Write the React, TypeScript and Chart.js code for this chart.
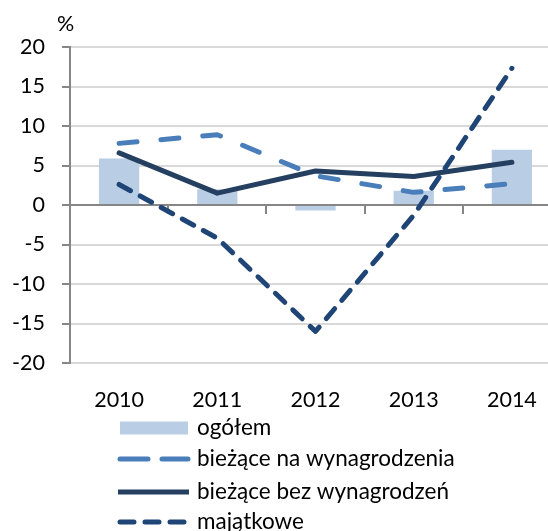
import React, { useEffect, useRef } from "react";
import { Chart, registerables } from "chart.js";

Chart.register(...registerables);

// ---- data ----
const categories = ["2010", "2011", "2012", "2013", "2014"];
const ogolem = [5.9, 2.0, -0.7, 1.8, 7.0];
const biezaceNaWynagrodzenia = [7.8, 8.9, 3.7, 1.6, 2.7];
const biezaceBezWynagrodzen = [6.6, 1.5, 4.3, 3.6, 5.4];
const majatkowe = [2.6, -4.2, -16.0, -1.3, 17.3];
const seriesNames = ["ogółem", "bieżące na wynagrodzenia", "bieżące bez wynagrodzeń", "majątkowe"];
const yMin = -20;
const yMax = 20;
const yStep = 5;
const unitLabel = "%";

// ---- styles ----
const FONT_FAMILY = "Lato";
const FONT_SIZE = 21.5;
const LEGEND_FONT_SIZE = 22.5;
const AXIS_COLOR = "#868686";
const GRID_COLOR = "#d9d9d9";
const BAR_COLOR = "#b9cde5";
const MID_BLUE = "#4a7ebb";
const NAVY = "#243f60";
const DARK_BLUE = "#1f4577";
const LINE_W = 5;

const overlayPlugin = {
  id: "overlay",
  afterDraw(chart: any) {
    const ctx = chart.ctx as CanvasRenderingContext2D;
    ctx.save();
    ctx.font = `${FONT_SIZE}px ${FONT_FAMILY}`;
    ctx.fillStyle = "#000";
    ctx.textAlign = "left";
    ctx.textBaseline = "middle";
    ctx.fillText(unitLabel, 57, 24);

    // legend (vertical, below the axis labels)
    ctx.font = `${LEGEND_FONT_SIZE}px ${FONT_FAMILY}`;
    const x0 = 120;
    const x1 = 188;
    const textX = 197;
    const rows = [428, 459, 492, 522];
    const ds = chart.data.datasets;
    rows.forEach((y, i) => {
      const d = ds[i];
      if (i === 0) {
        ctx.fillStyle = d.backgroundColor;
        ctx.fillRect(x0, y - 6.5, x1 - x0, 13);
      } else {
        ctx.beginPath();
        ctx.strokeStyle = d.borderColor;
        ctx.lineWidth = LINE_W;
        ctx.lineCap = i === 2 ? "butt" : "round";
        ctx.setLineDash(i === 1 ? [28, 14] : i === 3 ? [14, 11] : []);
        ctx.moveTo(i === 2 ? x0 - 2 : x0, y);
        ctx.lineTo(i === 2 ? x1 + 1 : x1, y);
        ctx.stroke();
        ctx.setLineDash([]);
      }
      ctx.fillStyle = "#000";
      ctx.fillText(d.label, textX, y);
    });
    ctx.restore();
  },
};

export default function App() {
  const canvasRef = useRef<HTMLCanvasElement | null>(null);

  useEffect(() => {
    if (!canvasRef.current) return;
    const font = { family: FONT_FAMILY, size: FONT_SIZE };
    const chart = new Chart(canvasRef.current, {
      type: "bar",
      data: {
        labels: categories,
        datasets: [
          {
            type: "bar",
            label: seriesNames[0],
            data: ogolem,
            backgroundColor: BAR_COLOR,
            barPercentage: 0.41,
            categoryPercentage: 1,
            order: 5,
            xAxisID: "x",
            yAxisID: "y",
          },
          {
            type: "line",
            label: seriesNames[1],
            data: biezaceNaWynagrodzenia,
            borderColor: MID_BLUE,
            backgroundColor: MID_BLUE,
            borderWidth: LINE_W,
            borderDash: [18, 24],
            borderCapStyle: "round",
            borderJoinStyle: "round",
            pointRadius: 0,
            tension: 0,
            fill: false,
            order: 4,
            xAxisID: "x",
            yAxisID: "y",
          },
          {
            type: "line",
            label: seriesNames[2],
            data: biezaceBezWynagrodzen,
            borderColor: NAVY,
            backgroundColor: NAVY,
            borderWidth: LINE_W,
            borderCapStyle: "round",
            borderJoinStyle: "round",
            pointRadius: 0,
            tension: 0,
            fill: false,
            order: 3,
            xAxisID: "x",
            yAxisID: "y",
          },
          {
            type: "line",
            label: seriesNames[3],
            data: majatkowe,
            borderColor: DARK_BLUE,
            backgroundColor: DARK_BLUE,
            borderWidth: LINE_W,
            borderDash: [13, 11],
            borderCapStyle: "round",
            borderJoinStyle: "round",
            pointRadius: 0,
            tension: 0,
            fill: false,
            order: 2,
            xAxisID: "x",
            yAxisID: "y",
          },
        ],
      } as any,
      options: {
        animation: false,
        responsive: false,
        maintainAspectRatio: false,
        layout: { padding: { top: 47, right: 1, left: 0, bottom: 0 } },
        plugins: {
          legend: { display: false },
          tooltip: { enabled: false },
        },
        scales: {
          x: {
            type: "category",
            position: { y: 0 } as any,
            offset: true,
            grid: {
              display: true,
              drawOnChartArea: false,
              drawTicks: true,
              tickLength: 8,
              offset: true,
              color: AXIS_COLOR,
              lineWidth: 2,
            },
            border: { display: true, color: AXIS_COLOR, width: 2 },
            ticks: { display: false },
          },
          x2: {
            type: "category",
            labels: categories,
            position: "bottom",
            offset: true,
            grid: { display: false, drawTicks: false },
            border: { display: false },
            ticks: { font, color: "#000", padding: 24, maxRotation: 0 },
            afterFit: (s: any) => {
              s.height = 168;
            },
          },
          y: {
            min: yMin,
            max: yMax,
            ticks: { stepSize: yStep, font, color: "#000", padding: 17 },
            grid: { color: GRID_COLOR, lineWidth: 2, tickColor: AXIS_COLOR, tickLength: 8 },
            border: { display: true, color: AXIS_COLOR, width: 2 },
            afterFit: (s: any) => {
              s.width = 70;
            },
          },
        },
      } as any,
      plugins: [overlayPlugin],
    });
    return () => chart.destroy();
  }, []);

  return (
    <div
      style={{
        position: "fixed",
        left: 0,
        top: 0,
        width: 548,
        height: 531,
        overflow: "hidden",
        background: "#fff",
      }}
    >
      <canvas ref={canvasRef} width={562} height={531} style={{ width: 562, height: 531, display: "block" }} />
    </div>
  );
}
